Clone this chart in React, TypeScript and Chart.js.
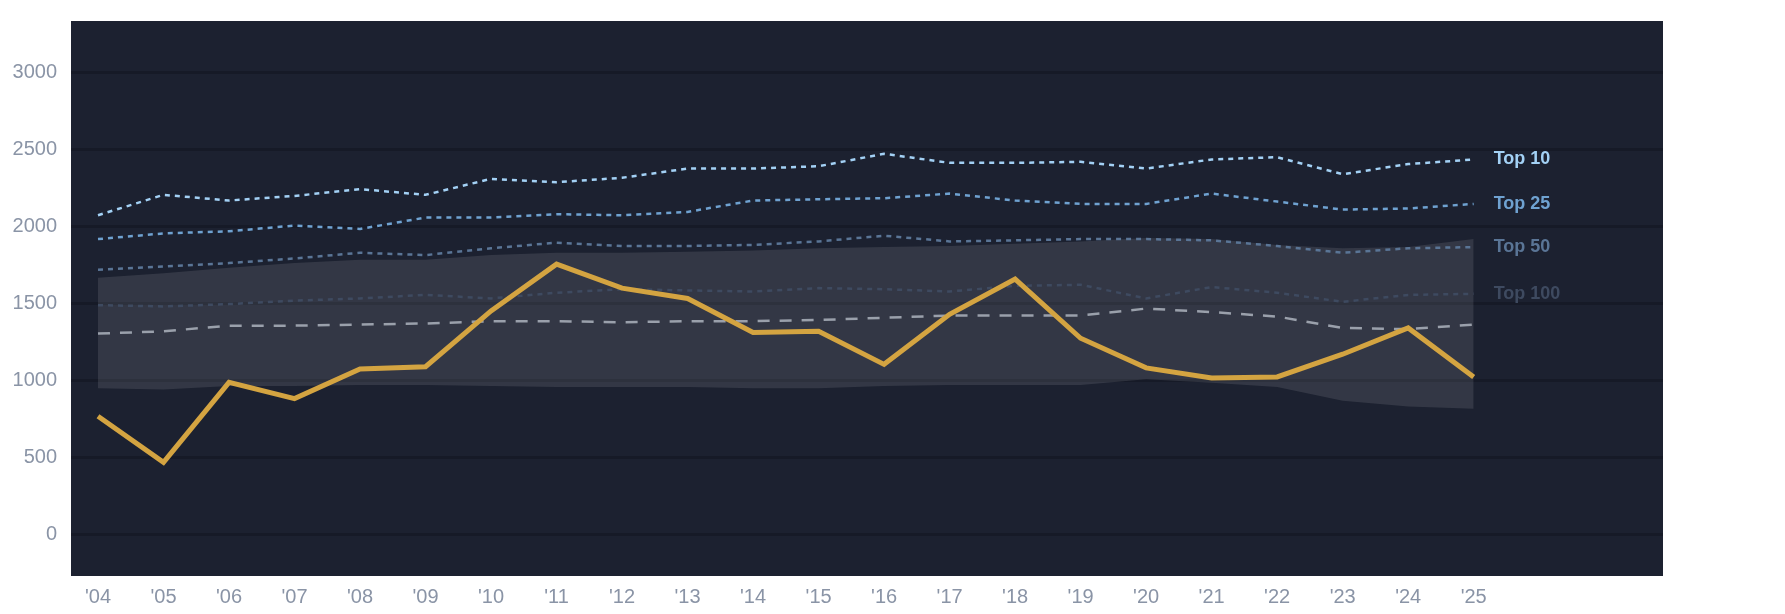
import React, { useEffect, useRef } from "react";
import { Chart, registerables, Plugin } from "chart.js";

Chart.register(...registerables);

// seasons '04 .. '25
const years = [
  2004, 2005, 2006, 2007, 2008, 2009, 2010, 2011, 2012, 2013, 2014, 2015,
  2016, 2017, 2018, 2019, 2020, 2021, 2022, 2023, 2024, 2025,
];

const player = [
  766, 467, 987, 881, 1074, 1089, 1452, 1756, 1600, 1533, 1311, 1319, 1104,
  1430, 1659, 1274, 1081, 1015, 1022, 1170, 1341, 1022,
];
const top10 = [
  2074, 2207, 2170, 2200, 2244, 2207, 2311, 2289, 2318, 2378, 2378, 2393,
  2474, 2415, 2415, 2422, 2378, 2437, 2452, 2341, 2407, 2437,
];
const top25 = [
  1919, 1956, 1970, 2007, 1985, 2059, 2059, 2081, 2074, 2096, 2170, 2178,
  2185, 2215, 2170, 2148, 2148, 2215, 2163, 2111, 2118, 2148,
];
const top50 = [
  1719, 1741, 1763, 1793, 1830, 1815, 1859, 1896, 1874, 1874, 1881, 1904,
  1941, 1904, 1911, 1919, 1919, 1911, 1874, 1830, 1859, 1867,
];
const top100 = [
  1489, 1481, 1496, 1519, 1533, 1556, 1533, 1570, 1593, 1585, 1578, 1600,
  1593, 1578, 1615, 1622, 1533, 1607, 1570, 1511, 1556, 1563,
];
const median = [
  1304, 1319, 1356, 1356, 1363, 1370, 1385, 1385, 1378, 1385, 1385, 1393,
  1407, 1422, 1422, 1422, 1467, 1444, 1415, 1341, 1333, 1363,
];
const bandHigh = [
  1667, 1696, 1733, 1763, 1785, 1785, 1815, 1830, 1830, 1837, 1844, 1859,
  1867, 1874, 1889, 1904, 1926, 1919, 1881, 1859, 1867, 1919,
];
const bandLow = [
  948, 941, 963, 963, 970, 970, 963, 956, 956, 956, 948, 948, 963, 970, 970,
  970, 1007, 985, 956, 867, 830, 815,
];

const yTicks = [0, 500, 1000, 1500, 2000, 2500, 3000];

const tierLabels = ["Top 10", "Top 25", "Top 50", "Top 100"];
const tierColors = ["#a3d1f5", "#6fa2d1", "#5a7596", "#3e4a60"];

const FONT = "'Liberation Sans', Arial, sans-serif";

const pts = (vals: number[]) => years.map((x, i) => ({ x, y: vals[i] }));

// dark plot background
const plotBg: Plugin = {
  id: "plotBg",
  beforeDraw(chart) {
    const { ctx, chartArea } = chart;
    ctx.save();
    ctx.fillStyle = "#1c2130";
    ctx.fillRect(
      chartArea.left,
      chartArea.top,
      chartArea.right - chartArea.left,
      chartArea.bottom - chartArea.top
    );
    ctx.restore();
  },
};

// "Top N" labels next to the last point of each tier line
const tierTags: Plugin = {
  id: "tierTags",
  afterDatasetsDraw(chart) {
    const { ctx } = chart;
    ctx.save();
    ctx.font = `bold 18px ${FONT}`;
    ctx.textBaseline = "middle";
    ctx.textAlign = "left";
    chart.data.datasets.forEach((ds: any, i) => {
      const k = tierLabels.indexOf(ds.label);
      if (k < 0) return;
      const meta = chart.getDatasetMeta(i);
      const last = meta.data[meta.data.length - 1];
      ctx.fillStyle = tierColors[k];
      ctx.fillText(tierLabels[k], last.x + 20, last.y);
    });
    ctx.restore();
  },
};

// drop the extra label padding Chart.js adds around the plot
const noPad = (axis: any) => {
  axis.paddingLeft = 0;
  axis.paddingRight = 0;
  axis.paddingTop = 0;
  axis.paddingBottom = 0;
};

const tierLine = (k: number, vals: number[], order: number) => ({
  label: tierLabels[k],
  data: pts(vals),
  borderColor: tierColors[k],
  borderWidth: 2.5,
  borderDash: [5, 5],
  pointRadius: 0,
  order,
});

const App: React.FC = () => {
  const canvasRef = useRef<HTMLCanvasElement | null>(null);

  useEffect(() => {
    if (!canvasRef.current) return;
    const chart = new Chart(canvasRef.current, {
      type: "line",
      data: {
        datasets: [
          {
            label: "band low",
            data: pts(bandLow),
            borderWidth: 0,
            borderColor: "transparent",
            pointRadius: 0,
            fill: false,
            order: 10,
          },
          {
            label: "band high",
            data: pts(bandHigh),
            borderWidth: 0,
            borderColor: "transparent",
            backgroundColor: "rgba(255,255,255,0.1)",
            pointRadius: 0,
            fill: "-1",
            order: 9,
          },
          tierLine(3, top100, 5),
          tierLine(2, top50, 4),
          tierLine(1, top25, 3),
          tierLine(0, top10, 2),
          {
            label: "median",
            data: pts(median),
            borderColor: "#9aa0ab",
            borderWidth: 2.5,
            borderDash: [12, 10],
            pointRadius: 0,
            order: 1,
          },
          {
            label: "player",
            data: pts(player),
            borderColor: "#d4a441",
            borderWidth: 5,
            pointRadius: 0,
            order: 0,
          },
        ],
      },
      options: {
        animation: false,
        responsive: true,
        maintainAspectRatio: false,
        layout: {
          autoPadding: false,
          padding: { left: 4, right: 114, top: 13, bottom: 4 },
        },
        plugins: {
          legend: { display: false },
          tooltip: { enabled: false },
        },
        scales: {
          x: {
            type: "linear",
            min: 2003.588,
            max: 2027.89,
            afterBuildTicks: (axis) => {
              axis.ticks = years.map((v) => ({ value: v }));
            },
            afterFit: noPad,
            grid: { display: false },
            border: { display: false },
            ticks: {
              autoSkip: false,
              maxRotation: 0,
              padding: 1,
              color: "#8a94a6",
              font: { family: FONT, size: 20 },
              callback: (v) => "'" + String(v).slice(2),
            },
          },
          y: {
            min: -273,
            max: 3338,
            afterBuildTicks: (axis) => {
              axis.ticks = yTicks.map((v) => ({ value: v }));
            },
            afterFit: (axis) => {
              noPad(axis);
              axis.width = 59;
            },
            grid: {
              color: "#161a27",
              lineWidth: 3,
              drawTicks: false,
            },
            border: { display: false },
            ticks: {
              padding: 14,
              color: "#8a94a6",
              font: { family: FONT, size: 20 },
              callback: (v) => String(v),
            },
          },
        },
      },
      plugins: [plotBg, tierTags],
    });
    return () => {
      chart.destroy();
    };
  }, []);

  return (
    <div style={{ width: 1769, height: 606, position: "relative" }}>
      <canvas ref={canvasRef} />
    </div>
  );
};

export default App;
